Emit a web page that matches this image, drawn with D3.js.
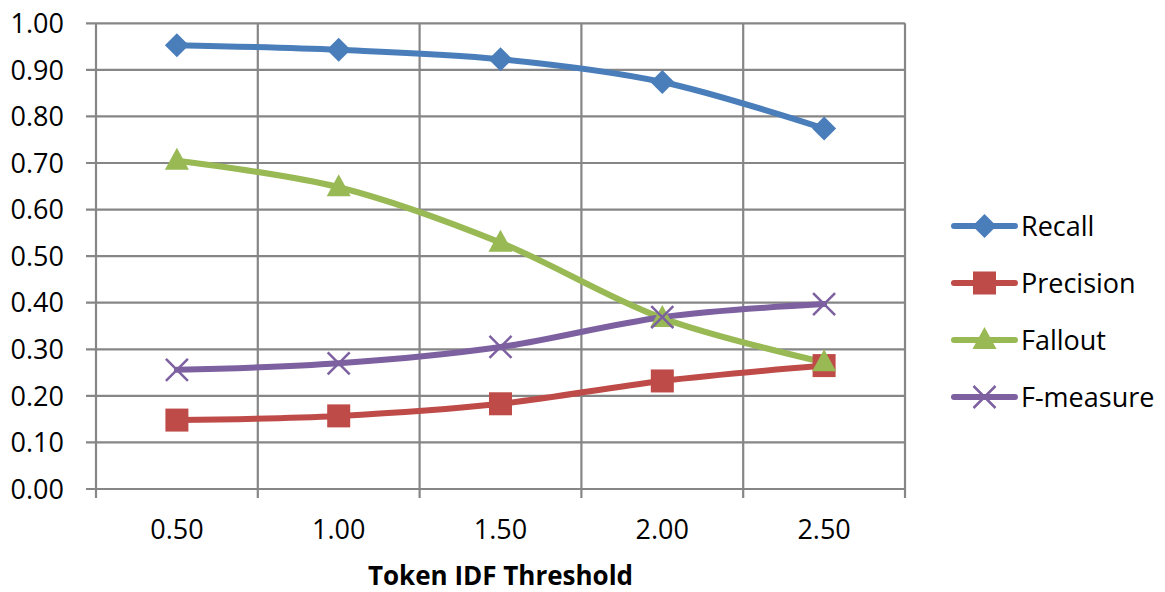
<!DOCTYPE html>
<html><head><meta charset="utf-8">
<script src="https://cdn.jsdelivr.net/npm/d3@7"></script>
<style>html,body{margin:0;padding:0;background:#fff;}svg{display:block;}</style>
</head><body>
<svg id="chart" width="1165" height="592"></svg>
<script>
const categories = ["0.50", "1.00", "1.50", "2.00", "2.50"];
const recall    = [0.953, 0.943, 0.923, 0.874, 0.774];
const precision = [0.148, 0.157, 0.183, 0.232, 0.265];
const fallout   = [0.705, 0.648, 0.529, 0.367, 0.272];
const fmeasure  = [0.256, 0.270, 0.305, 0.369, 0.397];
const yTicks = [0, 0.1, 0.2, 0.3, 0.4, 0.5, 0.6, 0.7, 0.8, 0.9, 1.0];
const seriesNames = ["Recall", "Precision", "Fallout", "F-measure"];
const seriesColors = ["#4A7EBB", "#BE4B48", "#98B954", "#7D60A0"];
const seriesMarkers = ["diamond", "square", "triangle", "x"];
const xTitle = "Token IDF Threshold";

const series = [recall, precision, fallout, fmeasure].map((vals, i) => ({
  name: seriesNames[i], color: seriesColors[i], marker: seriesMarkers[i], values: vals
}));

const svg = d3.select("#chart");
const font = "'Open Sans', 'Noto Sans', sans-serif";
const L = 96, R = 905, T = 23.3, B = 489;

const x = d3.scaleBand().domain(categories).range([L, R]).padding(0);
const y = d3.scaleLinear().domain([0, 1]).range([B, T]);
const grid = "#868686";

const g = svg.append("g");
g.selectAll("line.h").data(yTicks).join("line")
  .attr("x1", L - 10).attr("x2", R)
  .attr("y1", d => y(d)).attr("y2", d => y(d))
  .attr("stroke", grid).attr("stroke-width", 2.2);
const bounds = categories.map(c => x(c)).concat([R]);
g.selectAll("line.v").data(bounds).join("line")
  .attr("x1", d => d).attr("x2", d => d)
  .attr("y1", T).attr("y2", B + 9)
  .attr("stroke", grid).attr("stroke-width", 2.2);

svg.append("g").selectAll("text").data(yTicks).join("text")
  .attr("x", 64).attr("y", d => y(d)).attr("dy", "0.36em")
  .attr("text-anchor", "end")
  .attr("font-family", font).attr("font-size", 27).attr("fill", "#000")
  .text(d => d.toFixed(2));
svg.append("g").selectAll("text").data(categories).join("text")
  .attr("x", d => x(d) + x.bandwidth() / 2).attr("y", 539)
  .attr("text-anchor", "middle")
  .attr("font-family", font).attr("font-size", 27).attr("fill", "#000")
  .text(d => d);
svg.append("text").attr("x", (L + R) / 2).attr("y", 585)
  .attr("text-anchor", "middle").attr("font-family", font)
  .attr("font-weight", "bold").attr("font-size", 26).attr("fill", "#000")
  .text(xTitle);

function drawMarker(sel, type, color) {
  if (type === "diamond") {
    sel.append("path").attr("d", "M0,-12L12,0L0,12L-12,0Z").attr("fill", color);
  } else if (type === "square") {
    sel.append("rect").attr("x", -11.5).attr("y", -11.5).attr("width", 23).attr("height", 23).attr("fill", color);
  } else if (type === "triangle") {
    sel.append("path").attr("d", "M0,-13L12,9L-12,9Z").attr("fill", color);
  } else {
    sel.append("path").attr("d", "M-11,-11L11,11M-11,11L11,-11").attr("stroke", color).attr("stroke-width", 2.5).attr("fill", "none");
  }
}

const line = d3.line()
  .x((d, i) => x(categories[i]) + x.bandwidth() / 2)
  .y(d => y(d))
  .curve(d3.curveCatmullRom.alpha(0.5));

series.forEach(s => {
  svg.append("path").attr("d", line(s.values))
    .attr("fill", "none").attr("stroke", s.color).attr("stroke-width", 6)
    .attr("stroke-linejoin", "round").attr("stroke-linecap", "round");
});
series.forEach(s => {
  s.values.forEach((v, i) => {
    const m = svg.append("g").attr("transform", `translate(${x(categories[i]) + x.bandwidth() / 2},${y(v)})`);
    drawMarker(m, s.marker, s.color);
  });
});

const leg = svg.append("g");
series.forEach((s, i) => {
  const yy = 226 + i * 57;
  leg.append("line").attr("x1", 954).attr("x2", 1015).attr("y1", yy).attr("y2", yy)
    .attr("stroke", s.color).attr("stroke-width", 6).attr("stroke-linecap", "round");
  const m = leg.append("g").attr("transform", `translate(984.5,${yy})`);
  drawMarker(m, s.marker, s.color);
  leg.append("text").attr("x", 1021).attr("y", yy).attr("dy", "0.36em")
    .attr("font-family", font).attr("font-size", 27).attr("fill", "#000").text(s.name);
});
</script>
</body></html>
